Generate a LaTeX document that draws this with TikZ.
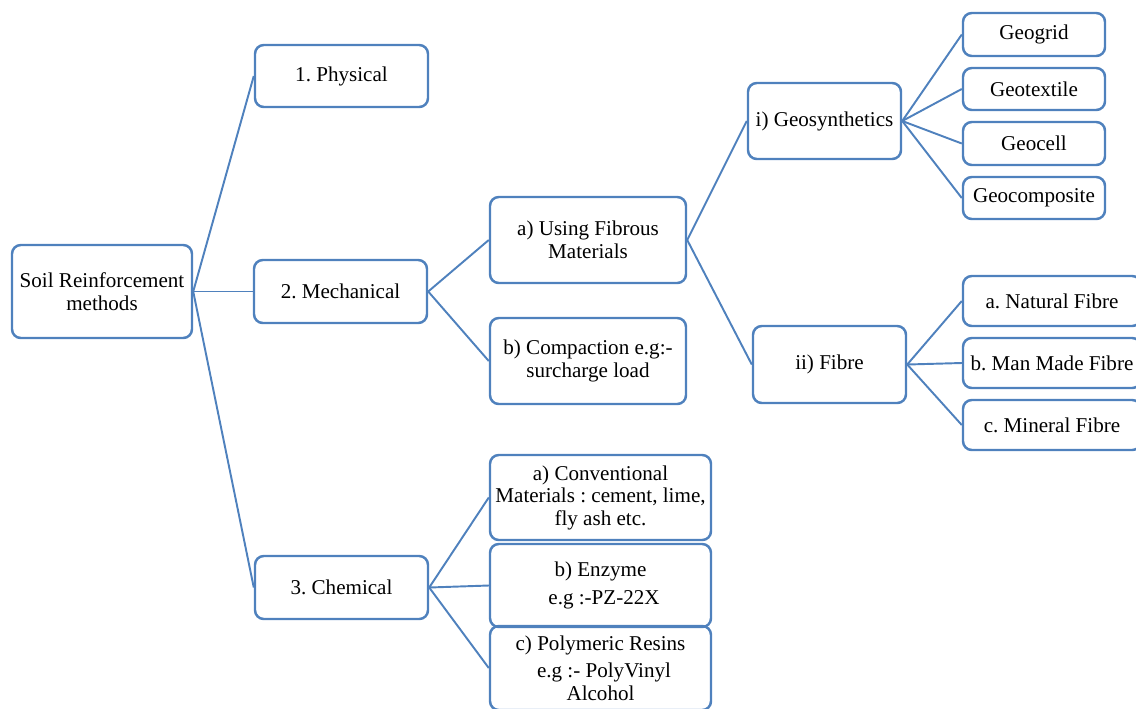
\documentclass[tikz,border=0pt]{standalone}
\usepackage{fontspec}
\setmainfont{Liberation Serif}
\frenchspacing
\definecolor{lineblue}{RGB}{79,129,189}
\tikzset{
    item/.style={draw=lineblue, line width=1.4pt, rounded corners=5pt, align=center,
        inner sep=0pt, font=\fontsize{12}{12.8}\selectfont},
    sz/.style 2 args={minimum width=#1*0.02cm, minimum height=#2*0.02cm},
    link/.style={draw=lineblue, line width=1.1pt}
}
\begin{document}
\begin{tikzpicture}[x=0.02cm,y=-0.02cm]
    \useasboundingbox (0,0) rectangle (1136,708);
    \clip (0,0) rectangle (1136,708);
    % first level
    \node[item,sz={180}{93}] (root) at (102,291.5) {Soil Reinforcement\\methods};
    \node[item,sz={173}{62}] (phys) at (341.5,76) {1. Physical};
    \node[item,sz={173}{63}] (mech) at (340.5,291.5) {2. Mechanical};
    \node[item,sz={173}{63}] (chem) at (341.5,587.5) {3. Chemical};
    % mechanical
    \node[item,sz={196}{86}] (fibrous) at (588,240) {a) Using Fibrous\\Materials};
    \node[item,sz={196}{86}] (compact) at (588,361) {b) Compaction e.g:-\\surcharge load};
    \node[item,sz={153}{76}] (geosyn) at (824.5,121) {i) Geosynthetics};
    \node[item,sz={153}{77}] (fibre) at (829.5,364.5) {ii) Fibre};
    \node[item,sz={142}{43}] (grid) at (1034,34.5) {Geogrid};
    \node[item,sz={142}{42}] (textile) at (1034,89) {Geotextile};
    \node[item,sz={142}{43}] (cell) at (1034,143.5) {Geocell};
    \node[item,sz={142}{42}] (composite) at (1034,198) {Geocomposite};
    \node[item,sz={178}{50}] (natural) at (1052,301) {a. Natural Fibre};
    \node[item,sz={178}{50}] (manmade) at (1052,363) {b. Man Made Fibre};
    \node[item,sz={178}{50}] (mineral) at (1052,425) {c. Mineral Fibre};
    % chemical
    \node[item,sz={221}{85}] (conv) at (600.5,497.5) {a) Conventional\\Materials : cement, lime,\\fly ash etc.};
    \node[item,sz={221}{83}] (enzyme) at (600.5,585.5) {b) Enzyme\\[3pt]\,\,e.g :-PZ-22X};
    \node[item,sz={221}{84}] (resin) at (600.5,668) {c) Polymeric Resins\\[3pt]\,\,e.g :- PolyVinyl\\Alcohol};
    % connectors
    \foreach \a/\b in {root/phys,root/mech,root/chem,mech/fibrous,mech/compact,
        fibrous/geosyn,fibrous/fibre,geosyn/grid,geosyn/textile,geosyn/cell,geosyn/composite,
        fibre/natural,fibre/manmade,fibre/mineral,chem/conv,chem/enzyme,chem/resin}{
        \draw[link] (\a.east) -- (\b.west);
    }
\end{tikzpicture}
\end{document}
